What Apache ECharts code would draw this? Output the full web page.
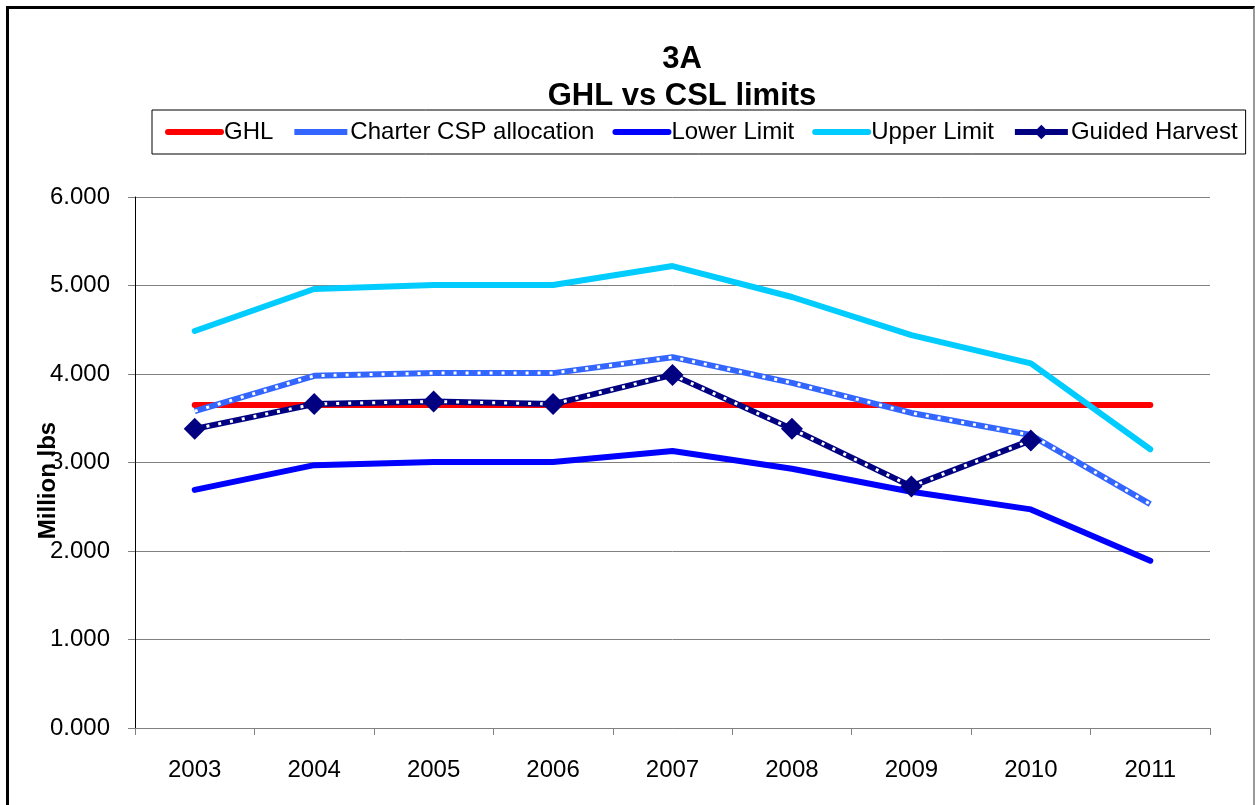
<!DOCTYPE html>
<html>
<head>
<meta charset="utf-8">
<script src="https://cdn.jsdelivr.net/npm/echarts@6/dist/echarts.min.js"></script>
<style>
  body { margin: 0; background: #fff; }
  #chart { position: absolute; left: 0; top: 0; width: 1255px; height: 805px; }
  #frame {
    position: absolute; left: 6px; top: 6px; width: 1244px; height: 830px;
    border-left: 3px solid #000; border-top: 3px solid #000; border-right: 2px solid #999;
    pointer-events: none;
  }
</style>
</head>
<body>
<div id="chart"></div>
<div id="frame"></div>
<script>
// 年份
const years = ["2003", "2004", "2005", "2006", "2007", "2008", "2009", "2010", "2011"];
// 各系列数值 (Million lbs)
const ghl = [3.65, 3.65, 3.65, 3.65, 3.65, 3.65, 3.65, 3.65, 3.65];
const charterCsp = [3.58, 3.98, 4.01, 4.01, 4.19, 3.90, 3.56, 3.31, 2.53];
const lowerLimit = [2.69, 2.97, 3.006, 3.006, 3.13, 2.93, 2.67, 2.47, 1.89];
const upperLimit = [4.486, 4.96, 5.006, 5.006, 5.22, 4.87, 4.44, 4.12, 3.15];
const guidedHarvest = [3.38, 3.66, 3.69, 3.66, 3.99, 3.38, 2.73, 3.25, null];
const yTicks = { min: 0, max: 6, interval: 1 };

const font = "Liberation Sans, Arial, sans-serif";
const myChart = echarts.init(document.getElementById("chart"));

const option = {
  animation: false,
  title: {
    text: "3A\nGHL vs CSL limits",
    left: 677,
    top: 36,
    textAlign: "center",
    textStyle: { fontFamily: font, fontSize: 31, fontWeight: "bold", color: "#000", lineHeight: 37 }
  },
  legend: {
    data: [
      "GHL",
      "Charter CSP allocation",
      "Lower Limit",
      "Upper Limit",
      { name: "Guided Harvest", itemStyle: { opacity: 1 } }
    ],
    left: 152,
    top: 110,
    padding: [10, 8, 10, 13],
    borderColor: "#000",
    borderWidth: 1,
    itemWidth: 53,
    itemHeight: 18,
    itemGap: 18,
    itemStyle: { opacity: 0 }, // 图例只画线
    lineStyle: { width: 6 },
    textStyle: { fontFamily: font, fontSize: 24, color: "#000", padding: [0, 0, 0, -2] }
  },
  grid: {
    left: 135,
    right: 45,
    top: 197,
    bottom: 77
  },
  xAxis: {
    type: "category",
    data: years,
    boundaryGap: true,
    axisLine: { lineStyle: { color: "#808080", width: 1 } },
    axisTick: { show: true, length: 7, inside: false, lineStyle: { color: "#808080" } },
    axisLabel: { fontFamily: font, fontSize: 24, color: "#000", margin: 30 },
    splitLine: { show: false }
  },
  yAxis: {
    type: "value",
    min: yTicks.min,
    max: yTicks.max,
    interval: yTicks.interval,
    name: "Million lbs",
    nameLocation: "middle",
    nameRotate: 90,
    nameGap: 75,
    nameMoveOverlap: false,
    nameTextStyle: { fontFamily: font, fontSize: 24, fontWeight: "bold", color: "#000", padding: [0, 36, 0, 0] },
    axisLine: { show: true, lineStyle: { color: "#000", width: 1 } },
    axisTick: { show: true, length: 7, lineStyle: { color: "#808080" } },
    axisLabel: {
      fontFamily: font, fontSize: 24, color: "#000", margin: 25,
      formatter: v => v.toFixed(3)
    },
    splitLine: { show: true, lineStyle: { color: "#808080", width: 1 } }
  },
  series: [
    {
      name: "GHL", type: "line", data: ghl, symbol: "none",
      lineStyle: { color: "#FF0000", width: 6, cap: "round" },
      itemStyle: { color: "#FF0000" }, z: 2
    },
    {
      name: "Charter CSP allocation", type: "line", data: charterCsp, symbol: "none",
      lineStyle: { color: "#3366FF", width: 6 },
      itemStyle: { color: "#3366FF" }, z: 3
    },
    {
      // 白色点状叠加
      name: "Charter CSP allocation", type: "line", data: charterCsp, symbol: "none",
      lineStyle: { color: "#FFFFFF", width: 3, type: [3, 9] },
      z: 4
    },
    {
      name: "Lower Limit", type: "line", data: lowerLimit, symbol: "none",
      lineStyle: { color: "#0000FF", width: 6, cap: "round" },
      itemStyle: { color: "#0000FF" }, z: 2
    },
    {
      name: "Upper Limit", type: "line", data: upperLimit, symbol: "none",
      lineStyle: { color: "#00CCFF", width: 6, cap: "round" },
      itemStyle: { color: "#00CCFF" }, z: 2
    },
    {
      name: "Guided Harvest", type: "line", data: guidedHarvest,
      symbol: "diamond", symbolSize: 22, showSymbol: false,
      lineStyle: { color: "#000080", width: 6 },
      itemStyle: { color: "#000080" }, z: 5
    },
    {
      // 白色点状叠加
      name: "Guided Harvest", type: "line", data: guidedHarvest, symbol: "none",
      lineStyle: { color: "#FFFFFF", width: 3, type: [3, 9] },
      z: 6
    },
    {
      // 菱形标记
      name: "Guided Harvest", type: "line", data: guidedHarvest,
      symbol: "diamond", symbolSize: 22, showSymbol: true,
      lineStyle: { opacity: 0, width: 0 },
      itemStyle: { color: "#000080" }, z: 7
    }
  ]
};
myChart.setOption(option);
</script>
</body>
</html>
